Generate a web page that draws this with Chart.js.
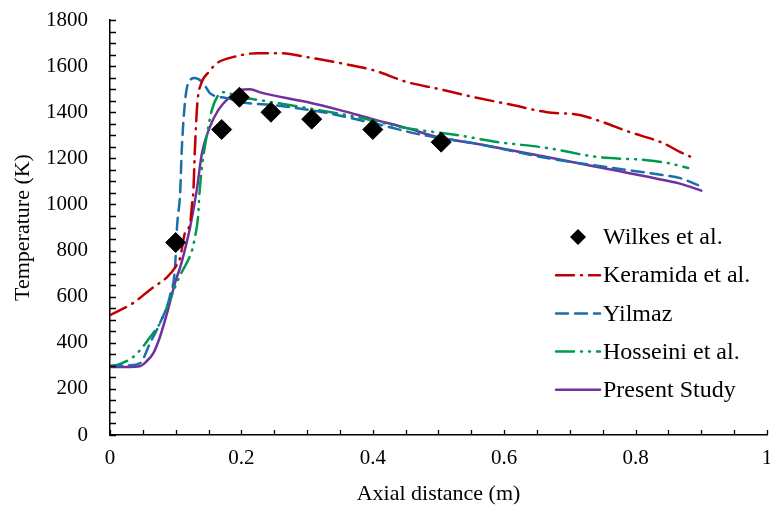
<!DOCTYPE html>
<html>
<head>
<meta charset="utf-8">
<script src="https://cdn.jsdelivr.net/npm/chart.js@4.4.1/dist/chart.umd.min.js"></script>
<style>
  html, body { margin: 0; padding: 0; background: #fff; }
  #wrap { width: 770px; height: 510px; }
</style>
</head>
<body>
<div id="wrap"><canvas id="tempChart" width="770" height="510"></canvas></div>
<script>
// Series labels (legend order)
const seriesNames = ['Wilkes et al.', 'Keramida et al.', 'Yilmaz', 'Hosseini et al.', 'Present Study'];

// Wilkes et al. - experimental points
const wilkesX = [0.1, 0.17, 0.197, 0.245, 0.307, 0.4, 0.504];
const wilkesT = [835, 1325, 1465, 1400, 1370, 1325, 1270];

// Keramida et al.
const keramidaX = [0, 0.035, 0.064, 0.087, 0.1, 0.107, 0.114, 0.122, 0.125, 0.127, 0.129, 0.133, 0.139, 0.149, 0.163, 0.187, 0.224, 0.26, 0.3, 0.35, 0.4, 0.452, 0.502, 0.553, 0.613, 0.665, 0.715, 0.741, 0.791, 0.842, 0.868, 0.885];
const keramidaT = [520, 572, 637, 685, 730, 772, 876, 919, 1006, 1062, 1223, 1440, 1526, 1570, 1613, 1639, 1656, 1656, 1639, 1613, 1583, 1531, 1500, 1466, 1431, 1400, 1388, 1366, 1314, 1266, 1227, 1205];

// Yilmaz
const yilmazX = [0, 0.03, 0.046, 0.061, 0.076, 0.091, 0.099, 0.102, 0.107, 0.109, 0.114, 0.119, 0.129, 0.142, 0.152, 0.178, 0.208, 0.248, 0.324, 0.4, 0.476, 0.553, 0.665, 0.766, 0.842, 0.868, 0.895];
const yilmazT = [300, 302, 312, 399, 485, 600, 729, 902, 1062, 1223, 1440, 1526, 1548, 1526, 1483, 1461, 1440, 1431, 1400, 1353, 1301, 1266, 1201, 1158, 1127, 1114, 1084];

// Hosseini et al.
const hosseiniX = [0, 0.01, 0.035, 0.05, 0.061, 0.076, 0.091, 0.107, 0.119, 0.125, 0.129, 0.134, 0.136, 0.14, 0.148, 0.155, 0.163, 0.172, 0.198, 0.233, 0.3, 0.376, 0.452, 0.528, 0.589, 0.665, 0.741, 0.817, 0.848, 0.88];
const hosseiniT = [300, 303, 338, 382, 425, 485, 585, 694, 759, 802, 854, 945, 1041, 1162, 1310, 1409, 1466, 1487, 1466, 1450, 1418, 1379, 1331, 1301, 1271, 1245, 1206, 1192, 1180, 1158];

// Present Study
const presentX = [0, 0.03, 0.045, 0.055, 0.066, 0.076, 0.087, 0.1, 0.107, 0.115, 0.122, 0.132, 0.14, 0.152, 0.165, 0.18, 0.198, 0.213, 0.23, 0.3, 0.35, 0.4, 0.452, 0.502, 0.56, 0.665, 0.766, 0.842, 0.87, 0.9];
const presentT = [295, 295, 298, 318, 355, 425, 530, 670, 729, 815, 902, 1062, 1223, 1336, 1410, 1460, 1496, 1500, 1485, 1444, 1409, 1370, 1331, 1290, 1262, 1206, 1149, 1106, 1088, 1060];

const serif = "'Liberation Serif', 'Times New Roman', serif";

function toPoints(xs, ys) {
    return xs.map((x, i) => ({ x: x, y: ys[i] }));
}

function lineSet(label, xs, ys, color, dash) {
    return {
        label: label,
        data: toPoints(xs, ys),
        showLine: true,
        borderColor: color,
        backgroundColor: color,
        borderWidth: 2.5,
        borderDash: dash,
        borderCapStyle: 'round',
        pointRadius: 0,
        cubicInterpolationMode: 'monotone',
        legendDash: dash
    };
}

// Inner tick marks (Excel style, pointing into the plot)
const innerTicks = {
    id: 'innerTicks',
    afterDraw(chart) {
        const { ctx, chartArea, scales: { x, y } } = chart;
        ctx.save();
        ctx.strokeStyle = '#000';
        ctx.lineWidth = 1.3;
        ctx.beginPath();
        for (let v = 0; v <= 1.0001; v += 0.05) {
            const px = Math.round(x.getPixelForValue(v)) + 0.5;
            ctx.moveTo(px, chartArea.bottom);
            ctx.lineTo(px, chartArea.bottom - 5);
        }
        for (let v = 0; v <= 1800; v += 50) {
            const py = Math.round(y.getPixelForValue(v)) + 0.5;
            ctx.moveTo(chartArea.left, py);
            ctx.lineTo(chartArea.left + 6, py);
        }
        ctx.stroke();
        ctx.restore();
    }
};

// Legend drawn inside the plot, lower right
const sideLegend = {
    id: 'sideLegend',
    afterDraw(chart) {
        const ctx = chart.ctx;
        const lineX0 = 556, lineX1 = 600, textX = 603;
        ctx.save();
        ctx.font = '24px ' + serif;
        ctx.textBaseline = 'middle';
        ctx.textAlign = 'left';
        chart.data.datasets.forEach((ds, i) => {
            const y = 237 + i * 38.2;
            if (ds.showLine) {
                ctx.strokeStyle = ds.borderColor;
                ctx.lineWidth = 2.5;
                ctx.lineCap = 'round';
                ctx.setLineDash(ds.legendDash);
                ctx.beginPath();
                ctx.moveTo(lineX0, y);
                ctx.lineTo(lineX1, y);
                ctx.stroke();
                ctx.setLineDash([]);
            } else {
                const cx = (lineX0 + lineX1) / 2, r = 8;
                ctx.fillStyle = '#000';
                ctx.beginPath();
                ctx.moveTo(cx - r, y);
                ctx.lineTo(cx, y - r);
                ctx.lineTo(cx + r, y);
                ctx.lineTo(cx, y + r);
                ctx.closePath();
                ctx.fill();
            }
            ctx.fillStyle = '#000';
            ctx.fillText(ds.label, textX, y + 1);
        });
        ctx.restore();
    }
};

new Chart(document.getElementById('tempChart'), {
    type: 'scatter',
    data: {
        datasets: [
            {
                label: seriesNames[0],
                data: toPoints(wilkesX, wilkesT),
                pointStyle: 'rectRot',
                pointRadius: 10,
                backgroundColor: '#000',
                borderColor: '#000',
                borderWidth: 1,
                showLine: false
            },
            lineSet(seriesNames[1], keramidaX, keramidaT, '#C00000', [18, 7, 1, 7]),
            lineSet(seriesNames[2], yilmazX, yilmazT, '#1B6FA8', [12, 7]),
            lineSet(seriesNames[3], hosseiniX, hosseiniT, '#009A4E', [18, 7, 1, 7, 1, 7]),
            lineSet(seriesNames[4], presentX, presentT, '#7030A0', [])
        ]
    },
    options: {
        responsive: false,
        animation: false,
        layout: { autoPadding: false, padding: { top: 20, right: 3, left: 0, bottom: 0 } },
        plugins: {
            legend: { display: false },
            tooltip: { enabled: false }
        },
        scales: {
            x: {
                type: 'linear',
                min: 0,
                max: 1,
                afterFit(scale) {
                    scale.height = 75;
                    scale.paddingLeft = 0;
                    scale.paddingRight = 0;
                },
                grid: { display: false, drawTicks: false },
                border: { display: true, color: '#000', width: 1.5 },
                ticks: {
                    stepSize: 0.2,
                    autoSkip: false,
                    maxRotation: 0,
                    padding: 11,
                    color: '#000',
                    font: { family: serif, size: 21 },
                    callback: v => (v === 0 ? '0' : Math.abs(v - 1) < 1e-9 ? '1' : v.toFixed(1))
                },
                title: {
                    display: true,
                    text: 'Axial distance (m)',
                    color: '#000',
                    font: { family: serif, size: 22 },
                    padding: { top: 0, bottom: 3 }
                }
            },
            y: {
                min: 0,
                max: 1800,
                afterFit(scale) {
                    scale.width = 110;
                    scale.paddingTop = 0;
                    scale.paddingBottom = 0;
                },
                grid: { display: false, drawTicks: false },
                border: { display: true, color: '#000', width: 1.5 },
                ticks: {
                    stepSize: 200,
                    padding: 22,
                    color: '#000',
                    font: { family: serif, size: 21 },
                    callback: v => String(v)
                },
                title: {
                    display: true,
                    text: 'Temperature (K)',
                    color: '#000',
                    font: { family: serif, size: 22 },
                    padding: { top: 10, bottom: 0 }
                }
            }
        }
    },
    plugins: [innerTicks, sideLegend]
});
</script>
</body>
</html>
